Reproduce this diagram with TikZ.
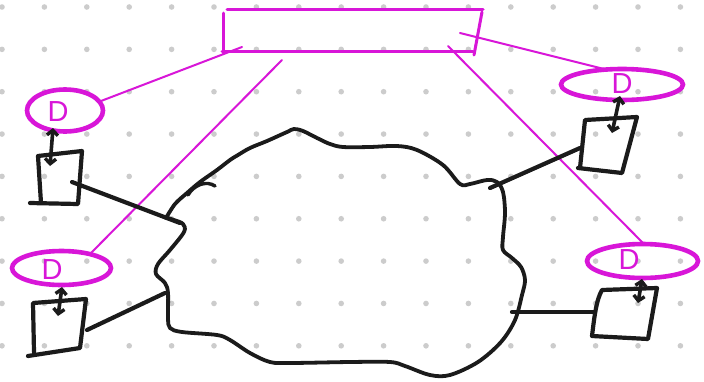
\documentclass[tikz,border=0pt]{standalone}
\usepackage{fontspec}
\newfontfamily\dfont{Liberation Sans}
\usetikzlibrary{arrows.meta,shapes.geometric}
\definecolor{mag}{RGB}{216,22,216}
\definecolor{ink}{RGB}{27,27,27}
\definecolor{dotc}{RGB}{204,204,204}
\tikzset{
  ink/.style={draw=ink,line width=4.2pt,line cap=round,line join=round},
  sq/.style={ink},
  link/.style={ink},
  dbl/.style={draw=ink,line width=3.6pt,line cap=round,{Straight Barb[length=5pt,width=11pt,line width=3.4pt]}-{Straight Barb[length=5pt,width=11pt,line width=3.4pt]}},
  ell/.style={ellipse,draw=mag,line width=4.6pt,inner sep=0pt},
  mline/.style={draw=mag,line width=2pt,line cap=round},
  rline/.style={draw=mag,line width=3pt,line cap=round},
  dlabel/.style={text=mag,font=\dfont\fontsize{29}{29}\selectfont,inner sep=0pt},
}
\begin{document}
\begin{tikzpicture}[x=1pt,y=-1pt]
\useasboundingbox (0,0) rectangle (704,381);
\fill[white] (0,0) rectangle (704,381);
% dot grid
\foreach \i in {0,...,16}{\foreach \j in {0,...,8}{
  \fill[dotc] ({2+42.4*\i},{7+42.35*\j}) circle (2.8);}}

% top rectangle (hand drawn)
\draw[rline] (227,9) -- (483,9);
\draw[rline] (223,13) -- (223,53);
\draw[rline] (222,51) -- (473,51);
\draw[rline] (482,12) -- (474,55);

% ellipses
\node[ell,minimum width=76pt,minimum height=42pt] (e1) at (65,110.5) {};
\node[ell,minimum width=99pt,minimum height=34pt] (e2) at (61.5,268) {};
\node[ell,minimum width=122pt,minimum height=31pt] (e3) at (622,84.5) {};
\node[ell,minimum width=111pt,minimum height=34pt] (e4) at (642.5,261) {};
\node[dlabel] (d1) at (58,112) {D};
\node[dlabel] (d2) at (52,270) {D};
\node[dlabel] (d3) at (622,84) {D};
\node[dlabel] (d4) at (629,260) {D};

% magenta connectors
\coordinate (r1) at (242,47);
\coordinate (r2) at (282,60);
\coordinate (r3) at (460,33);
\coordinate (r4) at (448,46);
\coordinate (t1) at (101,101);
\coordinate (t2) at (91,253);
\coordinate (t3) at (608,70);
\coordinate (t4) at (643,243);
\draw[mline] (r1) -- (t1);
\draw[mline] (r2) -- (t2);
\draw[mline] (r3) -- (t3);
\draw[mline] (r4) -- (t4);

% cloud
\draw[ink,line width=3.8pt] plot[smooth,tension=0.55] coordinates {
 (166,218) (175,204) (187,193) (200,182) (217,170) (230,160) (238,155)
 (250,148) (267,141) (287,132) (294,129) (303,131) (317,138) (330,144)
 (343,147) (370,147) (397,146) (417,150) (443,165) (460,184) (470,184)
 (487,180) (497,182) (503,192) (505,213) (503,237) (503,250) (512,258)
 (521,267) (525,280) (522,295) (515,320) (501,342) (478,362) (450,375)
 (430,375) (405,366) (390,362) (350,362) (290,363) (270,362) (250,353)
 (230,340) (217,335) (182,332) (170,328) (168,318) (168,293) (165,283)
 (156,274) (158,264) (170,250) (184,232) (183,224) (174,220) (164,217)};
\draw[ink,line width=3.4pt] (188,195) .. controls (194,185) and (206,180) .. (215,186);

% squares
\draw[sq] (30,203) -- (78,204) -- (82,151) -- (38,156) -- (41,203);
\draw[sq] (28,356) -- (80,348) -- (86,299) -- (33,303) -- (34,352);
\draw[sq] (578,168) -- (622,173) -- (637,117) -- (585,120) -- (580,168);
\draw[sq] (592,336) -- (648,339) -- (657,288) -- (602,290) .. controls (596,300) and (594,320) .. (592,336);

% double arrows
\coordinate (a1t) at (53,128); \coordinate (a1b) at (50,166);
\coordinate (a2t) at (62,287); \coordinate (a2b) at (58,316);
\coordinate (a3t) at (620,96);  \coordinate (a3b) at (612,133);
\coordinate (a4t) at (642,279); \coordinate (a4b) at (638,303);
\draw[dbl] (a1b) -- (a1t);
\draw[dbl] (a2b) -- (a2t);
\draw[dbl] (a3b) -- (a3t);
\draw[dbl] (a4b) -- (a4t);

% black connectors square -> cloud
\coordinate (s1) at (72,182); \coordinate (c1) at (180,223);
\coordinate (s2) at (87,330); \coordinate (c2) at (165,293);
\coordinate (s3) at (580,148); \coordinate (c3) at (490,188);
\coordinate (s4) at (594,312); \coordinate (c4) at (512,312);
\draw[link] (s1) -- (c1);
\draw[link] (s2) -- (c2);
\draw[link] (s3) -- (c3);
\draw[link] (s4) -- (c4);
\end{tikzpicture}
\end{document}
